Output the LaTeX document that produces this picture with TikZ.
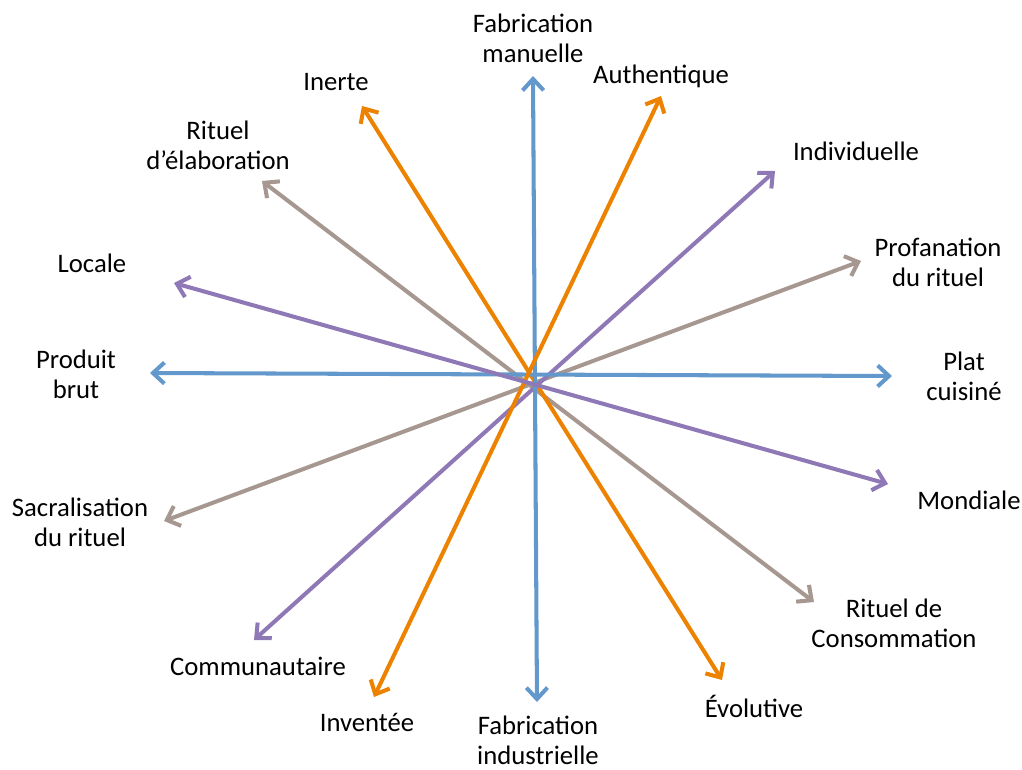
\documentclass[tikz,border=0pt]{standalone}
\usepackage{fontspec}
\setmainfont{Carlito}
\definecolor{axisblue}{HTML}{6398CC}
\definecolor{axisorange}{HTML}{EC8200}
\definecolor{axispurple}{HTML}{8F78B6}
\definecolor{axistaupe}{HTML}{A69890}
\usetikzlibrary{arrows.meta}

\begin{document}
\begin{tikzpicture}[x=0.02cm, y=-0.02cm,
    axe/.style={{Straight Barb[length=6.5pt,width=12pt]}-{Straight Barb[length=6.5pt,width=12pt]}, line width=2.3pt, line cap=round},
    lbl/.style={align=center, inner sep=0pt, font=\fontsize{15.2}{17}\selectfont}
  ]
    \useasboundingbox (0,0) rectangle (1022,769);

    % arrow ends
    \coordinate (manT) at (533,76);
    \coordinate (indT) at (537,702);
    \coordinate (bruT) at (150,373);
    \coordinate (plaT) at (892,376);
    \coordinate (ineT) at (362,106);
    \coordinate (evoT) at (722,680);
    \coordinate (autT) at (661,96);
    \coordinate (invT) at (374,697);
    \coordinate (ivdT) at (775,171);
    \coordinate (comT) at (254,640);
    \coordinate (locT) at (174,283);
    \coordinate (monT) at (888,484);
    \coordinate (elaT) at (262,181);
    \coordinate (conT) at (814,602);
    \coordinate (proT) at (861,261);
    \coordinate (sacT) at (164,521);

    % labels
    \node[lbl] (man) at (533,38) {Fabrication\\manuelle};
    \node[lbl] (ind) at (538,740) {Fabrication\\industrielle};
    \node[lbl] (bru) at (76,374) {Produit\\brut};
    \node[lbl] (pla) at (964,376) {Plat\\cuisiné};
    \node[lbl] (ine) at (336,82) {Inerte};
    \node[lbl] (evo) at (754,706) {Évolutive};
    \node[lbl] (aut) at (661,76) {Authentique};
    \node[lbl] (inv) at (367,722) {Inventée};
    \node[lbl] (ivd) at (856,151) {Individuelle};
    \node[lbl] (com) at (258,666) {Communautaire};
    \node[lbl] (loc) at (92,263) {Locale};
    \node[lbl] (mon) at (969,500) {Mondiale};
    \node[lbl] (ela) at (218,145) {Rituel\\d’élaboration};
    \node[lbl] (con) at (894,623) {Rituel de\\Consommation};
    \node[lbl] (pro) at (938,262) {Profanation\\du rituel};
    \node[lbl] (sac) at (80,522) {Sacralisation\\du rituel};

    \draw[axe, axistaupe] (elaT) -- (conT);
    \draw[axe, axistaupe] (proT) -- (sacT);
    \draw[axe, axisorange] (ineT) -- (evoT);
    \draw[axe, axispurple] (ivdT) -- (comT);
    \draw[axe, axisblue] (bruT) -- (plaT);
    \draw[axe, axisblue] (manT) -- (indT);
    \draw[axe, axisorange] (autT) -- (invT);
    \draw[axe, axispurple] (locT) -- (monT);
  \end{tikzpicture}
\end{document}
